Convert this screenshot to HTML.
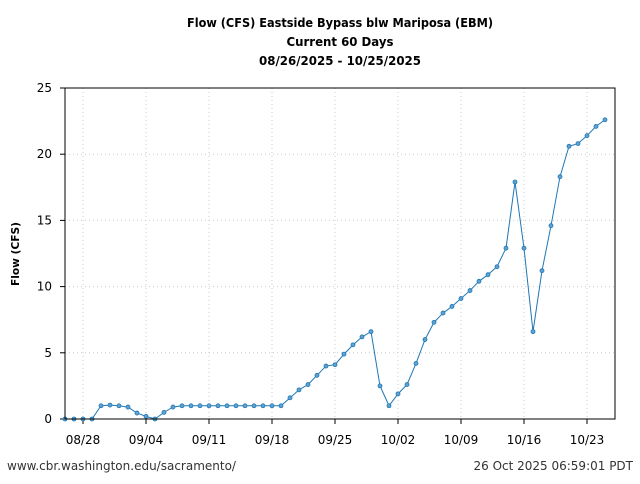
<!DOCTYPE html>
<html><head><meta charset="utf-8"><style>
body{margin:0;background:#fff;width:640px;height:480px;overflow:hidden;font-family:"DejaVu Sans","Liberation Sans",sans-serif;}
</style></head><body>
<svg width="640" height="480" xmlns="http://www.w3.org/2000/svg" font-family="DejaVu Sans, Liberation Sans, sans-serif">
<text x="340" y="27" text-anchor="middle" font-size="12" font-weight="bold" textLength="306" lengthAdjust="spacingAndGlyphs">Flow (CFS) Eastside Bypass blw Mariposa (EBM)</text>
<text x="340" y="46" text-anchor="middle" font-size="12" font-weight="bold" textLength="107" lengthAdjust="spacingAndGlyphs">Current 60 Days</text>
<text x="340" y="65" text-anchor="middle" font-size="12" font-weight="bold" textLength="162" lengthAdjust="spacingAndGlyphs">08/26/2025 - 10/25/2025</text>
<text transform="translate(19,254) rotate(-90)" text-anchor="middle" font-size="11" font-weight="bold" textLength="64" lengthAdjust="spacingAndGlyphs">Flow (CFS)</text>
<g id="grid"></g><g id="axes"></g><g id="series"></g>
<rect x="65" y="88" width="550" height="331" fill="none" stroke="#000" stroke-width="1"/>
<text x="7" y="470" font-size="12" fill="#333">www.cbr.washington.edu/sacramento/</text>
<text x="633" y="470" text-anchor="end" font-size="12" fill="#333">26 Oct 2025 06:59:01 PDT</text>
</svg>
<script>
const flowValues=[0,0,0,0,1.0,1.05,1.0,0.9,0.45,0.2,0,0.5,0.9,1,1,1,1,1,1,1,1,1,1,1,1,1.6,2.2,2.6,3.3,4.0,4.1,4.9,5.6,6.2,6.6,2.5,1.0,1.9,2.6,4.2,6.0,7.3,8.0,8.5,9.1,9.7,10.4,10.9,11.5,12.9,17.9,12.9,6.6,11.2,14.6,18.3,20.6,20.8,21.4,22.1,22.6];
const xTickIdx=[2,9,16,23,30,37,44,51,58];
const xTickLabels=["08/28","09/04","09/11","09/18","09/25","10/02","10/09","10/16","10/23"];
const yTicks=[0,5,10,15,20,25];
const NS="http://www.w3.org/2000/svg";
const X=i=>65+i*9, Y=v=>419-v*(331/25);
function mk(t,a,p){const e=document.createElementNS(NS,t);for(const k in a)e.setAttribute(k,a[k]);document.getElementById(p).appendChild(e);return e;}
yTicks.forEach(v=>{
 const g=mk('line',{x1:65,x2:615,y1:Y(v),y2:Y(v),stroke:'#ccc','stroke-dasharray':'1,3'},'grid');
 
 
 const t=mk('line',{x1:60,x2:65,y1:Y(v),y2:Y(v),stroke:'#000'},'axes');
 
 
 const l=mk('text',{x:52,y:Y(v)+4,'text-anchor':'end','font-size':'12'},'axes');l.textContent=v;
 
 
});
xTickIdx.forEach((d,k)=>{
 const g=mk('line',{x1:X(d),x2:X(d),y1:88,y2:419,stroke:'#ccc','stroke-dasharray':'1,3'},'grid');
 
 
 const t=mk('line',{x1:X(d),x2:X(d),y1:419,y2:424,stroke:'#000'},'axes');
 
 
 const l=mk('text',{x:X(d),y:444,'text-anchor':'middle','font-size':'12'},'axes');l.textContent=xTickLabels[k];
 
 
});
const line=mk('polyline',{points:flowValues.map((v,i)=>X(i)+','+Y(v)).join(' '),fill:'none',stroke:'#1f77b4','stroke-width':1},'series');


flowValues.forEach((v,i)=>{
 const c=mk('circle',{cx:X(i),cy:Y(v),r:2,fill:'#5fa2d0',stroke:'#1f77b4','stroke-width':0.8},'series');
 
 
});
</script>
</body></html>
